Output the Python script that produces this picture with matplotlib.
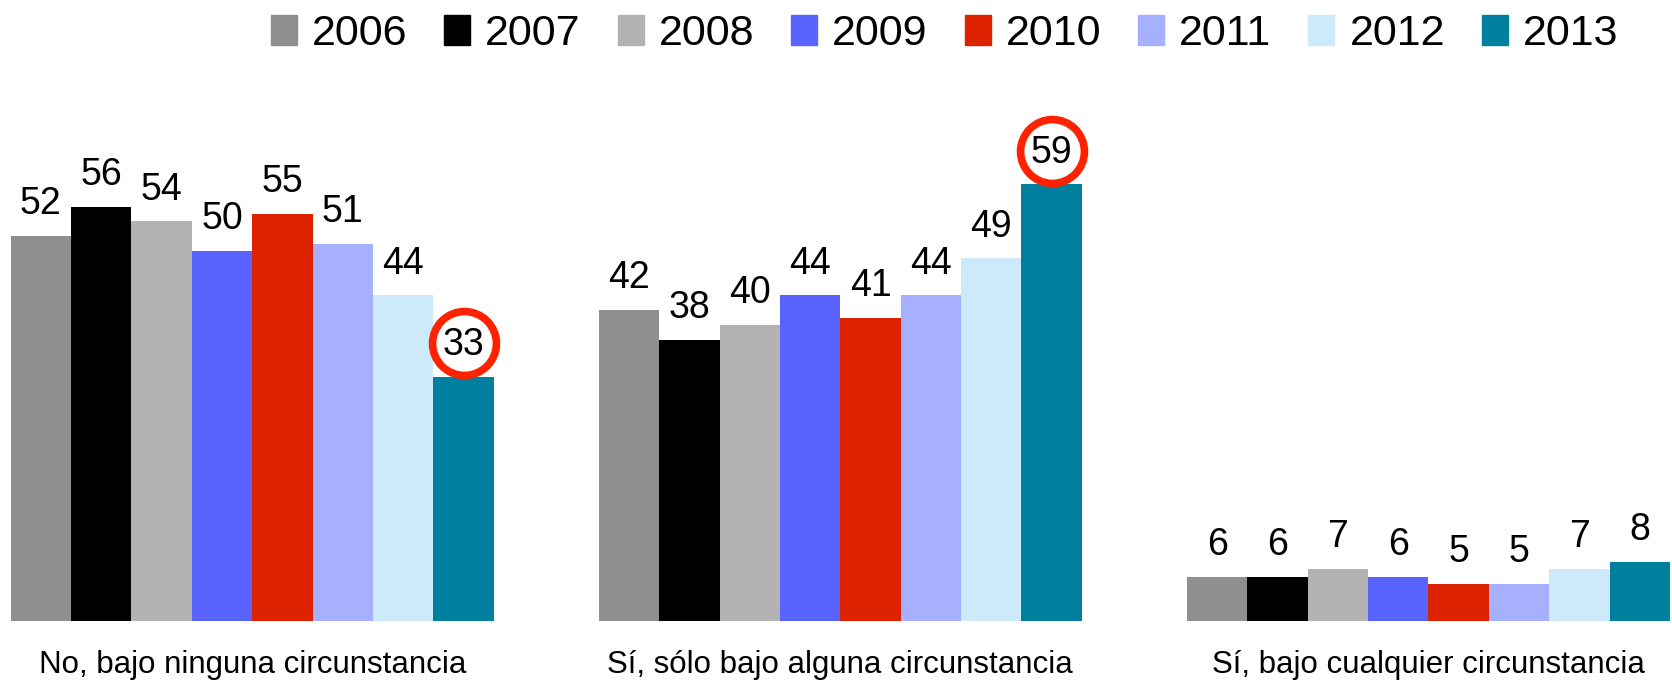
import matplotlib.pyplot as plt
import numpy as np
from matplotlib.transforms import offset_copy

plt.rcParams['font.family'] = ['Liberation Sans', 'DejaVu Sans']

# data
years = ['2006', '2007', '2008', '2009', '2010', '2011', '2012', '2013']
categories = ['No, bajo ninguna circunstancia',
              'Sí, sólo bajo alguna circunstancia',
              'Sí, bajo cualquier circunstancia']
values = {
    '2006': [52, 42, 6],
    '2007': [56, 38, 6],
    '2008': [54, 40, 7],
    '2009': [50, 44, 6],
    '2010': [55, 41, 5],
    '2011': [51, 44, 5],
    '2012': [44, 49, 7],
    '2013': [33, 59, 8],
}
colors = ['#8f8f8f', '#000000', '#b3b3b3', '#5964ff',
          '#dd2200', '#a6b0ff', '#cdeafb', '#007f9e']
highlight_year = '2013'

W, H = 1672, 682
fig = plt.figure(figsize=(W / 100, H / 100), dpi=100)
ax = fig.add_axes([10.7 / W, (H - 621) / H, (1670 - 10.7) / W, (621 - 60) / H])

n = len(years)
gap = 1.74
group_x = np.arange(len(categories)) * (n + gap)

for j, yr in enumerate(years):
    xs = group_x + j
    ax.bar(xs, values[yr], width=1.0, color=colors[j], align='edge')
    for x, v in zip(xs, values[yr]):
        ax.annotate(str(v), (x + 0.5, v), xytext=(0, 10), textcoords='offset points',
                    ha='center', va='bottom', fontsize=27)
        # red circle around the 2013 values
        if yr == highlight_year and v in (33, 59):
            trans = offset_copy(ax.transData, fig=fig, x=0, y=24, units='points')
            ax.plot([x + 0.5], [v], transform=trans, marker='o', ms=46,
                    mfc='none', mec='#ff2200', mew=5.5, clip_on=False)

ax.set_xlim(0, group_x[-1] + n)
ax.set_ylim(0, (621 - 60) / 7.4)
ax.set_xticks(group_x + n / 2)
ax.set_xticklabels(categories, fontsize=22.5)
ax.tick_params(axis='x', length=0, pad=21)
ax.set_yticks([])
for s in ax.spines.values():
    s.set_visible(False)

handles = [plt.Rectangle((0, 0), 1, 1, color=c) for c in colors]
fig.legend(handles, years, loc='upper center', bbox_to_anchor=(0.565, 1.036), ncol=n,
           frameon=False, fontsize=31, handlelength=0.6, handleheight=0.7,
           handletextpad=0.35, columnspacing=0.86)

fig.savefig('out.png', dpi=100)
